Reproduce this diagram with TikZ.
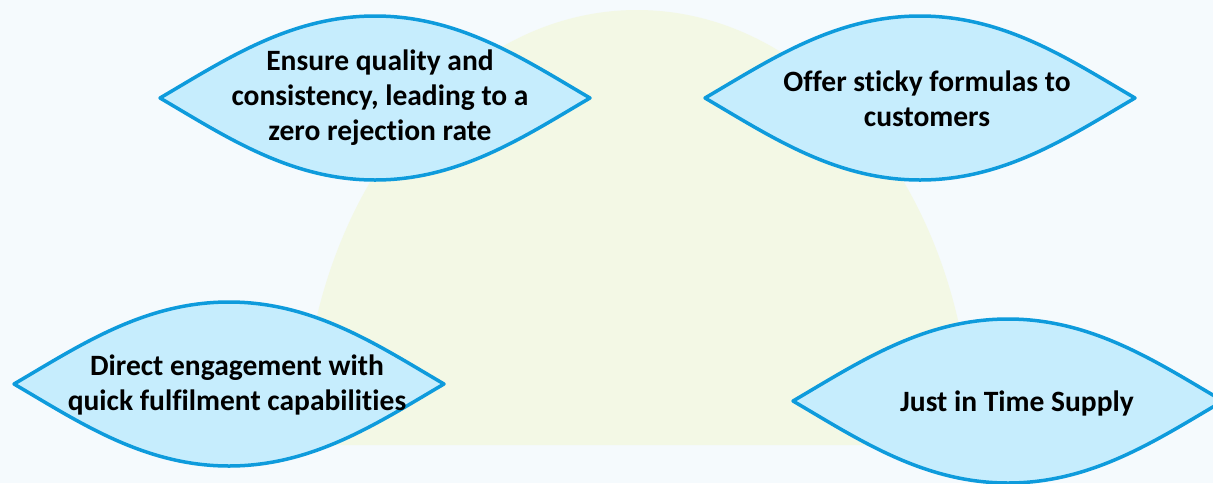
\documentclass[tikz,border=0pt]{standalone}
\usepackage{fontspec}
\setmainfont{Carlito}[Ligatures=NoCommon]
\definecolor{bgcol}{HTML}{F5FAFD}
\definecolor{domecol}{HTML}{F3F8E5}
\definecolor{leaffill}{HTML}{C6EDFD}
\definecolor{leafline}{HTML}{0E9BDC}
\tikzset{
  leafshape/.style={fill=leaffill,draw=leafline,line width=3.5pt,line join=round},
  leaftext/.style={align=center,font=\fontsize{29.5}{35}\selectfont\bfseries,text=black,inner sep=0pt},
  pics/leaf/.style={code={
    \path[leafshape] (-215,0) .. controls (-150,38) and (-85,82) .. (0,82)
      .. controls (85,82) and (150,38) .. (215,0)
      .. controls (150,-38) and (85,-82) .. (0,-82)
      .. controls (-85,-82) and (-150,-38) .. (-215,0) -- cycle;
  }}
}
\begin{document}
\begin{tikzpicture}[x=1pt,y=-1pt]
\useasboundingbox (0,0) rectangle (1213,483);
\fill[bgcol] (0,0) rectangle (1213,483);
\fill[domecol] (302,445) arc[start angle=180,end angle=360,x radius=335,y radius=435] -- cycle;

\pic at (375,98) {leaf};
\pic at (920,98) {leaf};
\pic at (229,384) {leaf};
\pic at (1008,401) {leaf};

\node[leaftext] (t1) at (380,98) {Ensure quality and\\consistency, leading to a\\zero rejection rate};
\node[leaftext] (t2) at (927,99) {Offer sticky formulas to\\customers};
\node[leaftext] (t3) at (237,385) {Direct engagement with\\quick fulfilment capabilities};
\node[leaftext] (t4) at (1017,403) {Just in Time Supply};
\end{tikzpicture}
\end{document}
